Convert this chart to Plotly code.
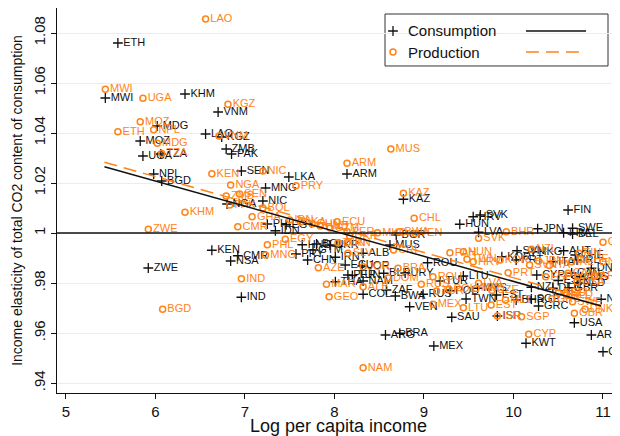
import plotly.graph_objects as go

# consumption-based elasticities (black +)
cons_code = ['ETH', 'MWI', 'KHM', 'VNM', 'MDG', 'MOZ', 'UGA', 'TZA', 'LAO', 'KGZ',
             'ZMB', 'PAK', 'SEN', 'LKA', 'MNG', 'NPL', 'BGD', 'NIC', 'NGA', 'KEN',
             'ZWE', 'CMR', 'NSA', 'IND', 'PHL', 'IDN', 'EGY', 'HND', 'PRY', 'GTM',
             'CHN', 'BOL', 'UKR', 'IRN', 'ALB', 'ECU', 'JOR', 'PER', 'THA', 'NAM',
             'COL', 'ZAF', 'BWA', 'BLR', 'URY', 'TUN', 'MUS', 'BGR', 'ROU', 'RUS',
             'TUR', 'VEN', 'MEX', 'ARG', 'BRA', 'ARM', 'KAZ', 'HUN', 'HRV', 'SVK',
             'LVA', 'JPN', 'SWE', 'BEL', 'FRA', 'FIN', 'AUT', 'CHE', 'IRL', 'DNK',
             'NOR', 'USA', 'ARE', 'QAT', 'ITA', 'KOR', 'SVN', 'HKG', 'PRT', 'KWT',
             'CYP', 'NZL', 'DEU', 'SGP', 'BHR', 'GRC', 'EST', 'TWN', 'POL', 'LTU',
             'SAU', 'MYS', 'ISR', 'ESP', 'NLD', 'GBR', 'AUS', 'CAN']
cons_x = [5.58, 5.44, 6.33, 6.70, 6.02, 5.83, 5.86, 6.06, 6.56, 6.74,
          6.79, 6.85, 6.96, 7.49, 7.23, 5.98, 6.07, 7.20, 6.80, 6.63,
          5.92, 6.92, 6.84, 6.96, 7.25, 7.34, 7.46, 7.64, 7.57, 7.76,
          7.70, 7.80, 7.95, 8.01, 8.32, 8.12, 8.31, 8.15, 8.01, 8.32,
          8.32, 8.58, 8.68, 8.55, 8.79, 8.20, 8.62, 8.69, 9.04, 8.99,
          9.18, 8.84, 9.11, 8.57, 8.73, 8.14, 8.77, 9.40, 9.55, 9.63,
          9.61, 10.27, 10.66, 10.66, 10.56, 10.61, 10.56, 10.69, 10.71, 10.87,
          10.98, 10.68, 10.87, 11.00, 10.44, 9.87, 10.04, 10.22, 10.03, 10.14,
          10.26, 10.20, 10.44, 10.20, 10.03, 10.28, 9.81, 9.47, 9.29, 9.44,
          9.31, 9.60, 9.82, 10.50, 10.72, 10.62, 10.75, 10.65]
cons_y = [1.0760, 1.0540, 1.0556, 1.0484, 1.0428, 1.0368, 1.0308, 1.0316, 1.0396, 1.0384,
          1.0336, 1.0316, 1.0248, 1.0224, 1.0180, 1.0236, 1.0208, 1.0128, 1.0116, 0.9931,
          0.9860, 0.9909, 0.9888, 0.9743, 1.0036, 1.0009, 1.0033, 0.9953, 0.9916, 0.9932,
          0.9892, 0.9956, 0.9952, 0.9903, 0.9919, 0.9872, 0.9868, 0.9832, 0.9805, 0.9808,
          0.9755, 0.9772, 0.9748, 0.9839, 0.9840, 0.9830, 0.9952, 0.9992, 0.9881, 0.9755,
          0.9808, 0.9705, 0.9548, 0.9592, 0.9599, 1.0236, 1.0135, 1.0035, 1.0065, 1.0072,
          1.0003, 1.0017, 1.0019, 0.9996, 1.0001, 1.0092, 0.9929, 0.9912, 0.9892, 0.9859,
          0.9735, 0.9641, 0.9592, 0.9525, 0.9885, 0.9905, 0.9929, 0.9925, 0.9892, 0.9559,
          0.9832, 0.9783, 0.9779, 0.9736, 0.9732, 0.9708, 0.9752, 0.9736, 0.9769, 0.9828,
          0.9663, 0.9779, 0.9668, 0.9810, 0.9800, 0.9780, 0.9825, 0.9840]

# production-based elasticities (orange o)
prod_code = ['LAO', 'MWI', 'UGA', 'KGZ', 'MOZ', 'ETH', 'NPL', 'MDG', 'VNM', 'TZA',
             'KEN', 'NIC', 'NGA', 'PRY', 'ZMB', 'SEN', 'PAK', 'KHM', 'GHA', 'BOL',
             'IDN', 'LKA', 'CHN', 'CMR', 'ZWE', 'EGY', 'PHL', 'MNG', 'IND', 'BGD',
             'HND', 'GTM', 'UKR', 'ECU', 'ARM', 'MUS', 'KAZ', 'CHL', 'PER', 'MKD',
             'BWA', 'VEN', 'SVK', 'BHR', 'TUN', 'IRN', 'SLV', 'CRI', 'AZE', 'JOR',
             'MAR', 'GEO', 'NAM', 'ALB', 'BRA', 'DOM', 'ROU', 'RUS', 'TUR', 'POL',
             'MEX', 'LTU', 'EST', 'ISR', 'SGP', 'CYP', 'LVA', 'MYS', 'CZE', 'HRV',
             'TWN', 'HUN', 'PAN', 'KOR', 'SVN', 'NZL', 'JPN', 'PRT', 'CAN', 'QAT',
             'NOR', 'ARE', 'DNK', 'GBR', 'SWE', 'NLD', 'USA', 'FIN', 'IRL', 'AUT',
             'ESP', 'MLT', 'GRC', 'CHE', 'ITA', 'DEU', 'BEL']
prod_x = [6.56, 5.44, 5.86, 6.81, 5.83, 5.58, 5.98, 6.02, 6.71, 6.07,
          6.63, 7.20, 6.84, 7.57, 6.79, 6.94, 6.83, 6.33, 7.08, 7.20,
          7.50, 7.62, 7.75, 6.92, 5.92, 7.45, 7.25, 7.23, 6.96, 6.08,
          7.84, 7.95, 8.17, 8.03, 8.14, 8.63, 8.77, 8.89, 8.14, 8.48,
          8.73, 8.90, 9.61, 9.92, 8.04, 8.14, 8.15, 8.66, 7.82, 8.32,
          7.91, 7.94, 8.32, 8.32, 8.71, 8.60, 9.10, 8.97, 9.14, 9.28,
          9.10, 9.44, 9.75, 9.82, 10.09, 10.17, 9.61, 9.58, 9.76, 9.55,
          9.48, 9.44, 9.29, 9.85, 10.18, 10.20, 10.28, 9.94, 10.61, 11.00,
          11.00, 10.91, 10.80, 10.68, 10.66, 10.59, 10.71, 10.73, 10.65, 10.72,
          10.36, 9.91, 10.43, 10.75, 10.40, 10.50, 10.58]
prod_y = [1.0856, 1.0575, 1.0539, 1.0515, 1.0445, 1.0405, 1.0413, 1.0359, 1.0388, 1.0318,
          1.0237, 1.0248, 1.0192, 1.0189, 1.0148, 1.0156, 1.0112, 1.0083, 1.0065, 1.0100,
          1.0052, 1.0044, 1.0036, 1.0025, 1.0015, 0.9975, 0.9953, 0.9912, 0.9817, 0.9695,
          1.0028, 1.0020, 0.9988, 1.0045, 1.0279, 1.0336, 1.0159, 1.0059, 1.0005, 1.0001,
          1.0005, 0.9998, 0.9979, 1.0005, 0.9961, 0.9961, 0.9919, 0.9932, 0.9861, 0.9865,
          0.9795, 0.9745, 0.9461, 0.9785, 0.9859, 0.9820, 0.9825, 0.9795, 0.9768, 0.9775,
          0.9715, 0.9701, 0.9712, 0.9668, 0.9665, 0.9595, 0.9799, 0.9778, 0.9770, 0.9885,
          0.9895, 0.9925, 0.9921, 0.9892, 0.9872, 0.9935, 0.9888, 0.9841, 0.9839, 0.9963,
          0.9885, 0.9828, 0.9695, 0.9679, 0.9725, 0.9752, 0.9805, 0.9919, 0.9885, 0.9825,
          0.9825, 0.9732, 0.9737, 0.9895, 0.9870, 0.9760, 0.9760]

fit_x = [5.43, 10.98]
cons_fit = [1.0265, 0.9708]
prod_fit = [1.0283, 0.9722]

ytick_vals = [0.94, 0.96, 0.98, 1.00, 1.02, 1.04, 1.06, 1.08]
ytick_text = ['.94', '.96', '.98', '1', '1.02', '1.04', '1.06', '1.08']
xtick_vals = [5, 6, 7, 8, 9, 10, 11]

ORANGE = '#ff8317'
BLACK = '#111111'
FONT = 'Liberation Sans, Arial, sans-serif'

fig = go.Figure()

fig.add_trace(go.Scatter(
    x=cons_x, y=cons_y, text=cons_code, mode='markers+text',
    textposition='middle right',
    textfont=dict(family=FONT, size=11, color=BLACK),
    marker=dict(symbol='cross-thin', size=7, line=dict(color=BLACK, width=1.3)),
    showlegend=False))

fig.add_trace(go.Scatter(
    x=prod_x, y=prod_y, text=prod_code, mode='markers+text',
    textposition='middle right',
    textfont=dict(family=FONT, size=11, color=ORANGE),
    marker=dict(symbol='circle-open', size=6, color=ORANGE,
                line=dict(color=ORANGE, width=1.5)),
    showlegend=False))

fig.add_trace(go.Scatter(x=fit_x, y=cons_fit, mode='lines',
                         line=dict(color=BLACK, width=1.5), showlegend=False))
fig.add_trace(go.Scatter(x=fit_x, y=prod_fit, mode='lines',
                         line=dict(color=ORANGE, width=1.5, dash='13px,7px'),
                         showlegend=False))

fig.add_hline(y=1, line=dict(color=BLACK, width=1.4))

# hand-made legend box, Stata style
fig.add_shape(type='rect', xref='paper', yref='paper',
              x0=0.5826, x1=0.9787, y0=0.8494, y1=0.9844,
              line=dict(color='#333333', width=1), fillcolor='white', layer='between')
fig.add_trace(go.Scatter(x=[0.5968], y=[0.9403], xaxis='x2', yaxis='y2', mode='markers',
                         marker=dict(symbol='cross-thin', size=7, line=dict(color=BLACK, width=1.3)),
                         showlegend=False, hoverinfo='skip'))
fig.add_trace(go.Scatter(x=[0.5968], y=[0.8857], xaxis='x2', yaxis='y2', mode='markers',
                         marker=dict(symbol='circle-open', size=6, color=ORANGE,
                                     line=dict(color=ORANGE, width=1.5)),
                         showlegend=False, hoverinfo='skip'))
fig.add_shape(type='line', xref='paper', yref='paper', x0=0.833, x1=0.9396,
              y0=0.9403, y1=0.9403, line=dict(color=BLACK, width=1.5))
fig.add_shape(type='line', xref='paper', yref='paper', x0=0.833, x1=0.9396,
              y0=0.8857, y1=0.8857, line=dict(color=ORANGE, width=1.5, dash='13px,7px'))
for label, ypos in [('Consumption', 0.9403), ('Production', 0.8857)]:
    fig.add_annotation(x=0.6199, y=ypos, xref='paper', yref='paper', text=label,
                       showarrow=False, xanchor='left', yanchor='middle',
                       font=dict(family=FONT, size=15, color=BLACK))

# the page puts the figure 8px in from the top-left corner
fig.update_layout(
    width=612, height=428,
    margin=dict(l=49, r=0, t=0, b=43),
    paper_bgcolor='white', plot_bgcolor='white',
    font=dict(family=FONT, size=15, color=BLACK),
    xaxis=dict(range=[4.9, 11.19], tickvals=xtick_vals, ticks='outside', ticklen=5,
               tickcolor=BLACK, showline=True, linecolor=BLACK, linewidth=1,
               showgrid=False, zeroline=False, automargin=False,
               title=dict(text='Log per capita income', standoff=2)),
    yaxis=dict(range=[0.936, 1.09], tickvals=ytick_vals, ticktext=ytick_text,
               tickangle=-90, ticks='outside', ticklen=5, tickcolor=BLACK,
               showline=True, linecolor=BLACK, linewidth=1,
               showgrid=True, gridcolor='#e6eef0', gridwidth=1.2, zeroline=False,
               automargin=False,
               title=dict(text='Income elasticity of total CO2 content of consumption',
                          font=dict(size=14), standoff=5)),
    xaxis2=dict(overlaying='x', range=[0, 1], visible=False),
    yaxis2=dict(overlaying='y', range=[0, 1], visible=False),
)

fig.write_html("out.html")
